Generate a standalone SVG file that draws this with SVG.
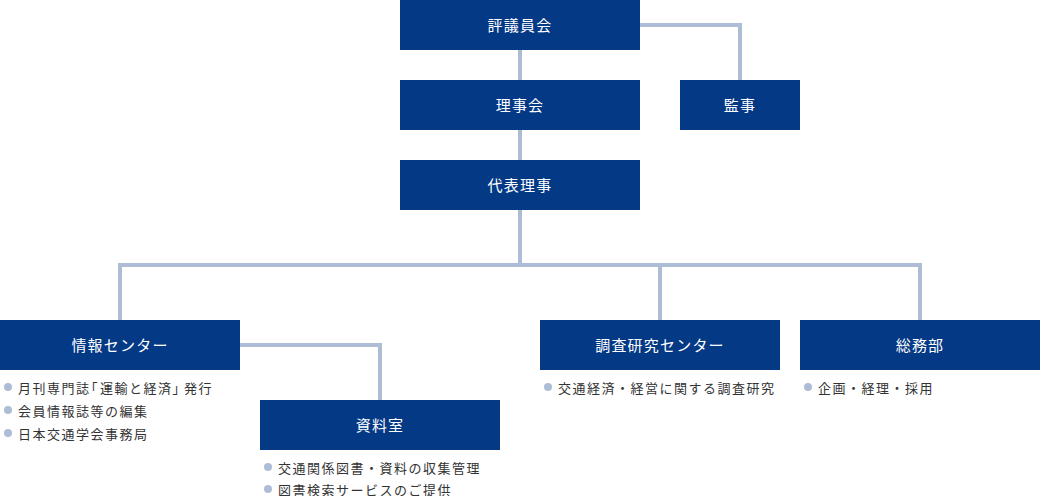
<svg xmlns="http://www.w3.org/2000/svg" width="1040" height="496" viewBox="0 0 1040 496">
<style>
.box{fill:#043985}
.lbl{fill:#ffffff;font-family:"Noto Sans CJK JP","Noto Sans",sans-serif;font-size:15px;letter-spacing:1.2px;text-anchor:middle;dominant-baseline:central}
.item{fill:#333333;font-family:"Noto Sans CJK JP","Noto Sans",sans-serif;font-size:13px;letter-spacing:1.5px;dominant-baseline:central}
.dot{fill:#adbdd6}
.ln{fill:none;stroke:#adbdd6;stroke-width:4}
</style>
<g id="connectors">
<path class="ln" d="M520 50V80M520 130V160M520 210V265M640 25H740V80M120 320V265H920V320M660 265V320M240 345H380V400"/>
</g>
<g id="hyogiinkai"><rect class="box" x="400" y="0" width="240" height="50"/><text class="lbl" x="520" y="24">評議員会</text></g>
<g id="rijikai"><rect class="box" x="400" y="80" width="240" height="50"/><text class="lbl" x="520" y="104">理事会</text></g>
<g id="kanji"><rect class="box" x="680" y="80" width="120" height="50"/><text class="lbl" x="740" y="104">監事</text></g>
<g id="daihyo"><rect class="box" x="400" y="160" width="240" height="50"/><text class="lbl" x="520" y="184">代表理事</text></g>
<g id="joho"><rect class="box" x="0" y="320" width="240" height="50"/><text class="lbl" x="120" y="344">情報センター</text>
<circle class="dot" cx="8" cy="387" r="4"/><text class="item" x="18" y="387">月刊専門誌<tspan dx="-6">「</tspan><tspan dx="1">運輸と経済</tspan>」<tspan dx="-3">発行</tspan></text>
<circle class="dot" cx="8" cy="410" r="4"/><text class="item" x="18" y="410">会員情報誌等の編集</text>
<circle class="dot" cx="8" cy="433" r="4"/><text class="item" x="18" y="433">日本交通学会事務局</text>
</g>
<g id="shiryoshitsu"><rect class="box" x="260" y="400" width="240" height="50"/><text class="lbl" x="380" y="424">資料室</text>
<circle class="dot" cx="268" cy="467" r="4"/><text class="item" x="278" y="467">交通関係図書・資料の収集管理</text>
<circle class="dot" cx="268" cy="489" r="4"/><text class="item" x="278" y="489">図書検索サービスのご提供</text>
</g>
<g id="chosa"><rect class="box" x="540" y="320" width="240" height="50"/><text class="lbl" x="660" y="344">調査研究センター</text>
<circle class="dot" cx="548" cy="387" r="4"/><text class="item" x="558" y="387">交通経済・経営に関する調査研究</text>
</g>
<g id="somubu"><rect class="box" x="800" y="320" width="240" height="50"/><text class="lbl" x="920" y="344">総務部</text>
<circle class="dot" cx="808" cy="387" r="4"/><text class="item" x="818" y="387">企画・経理・採用</text>
</g>
</svg>
